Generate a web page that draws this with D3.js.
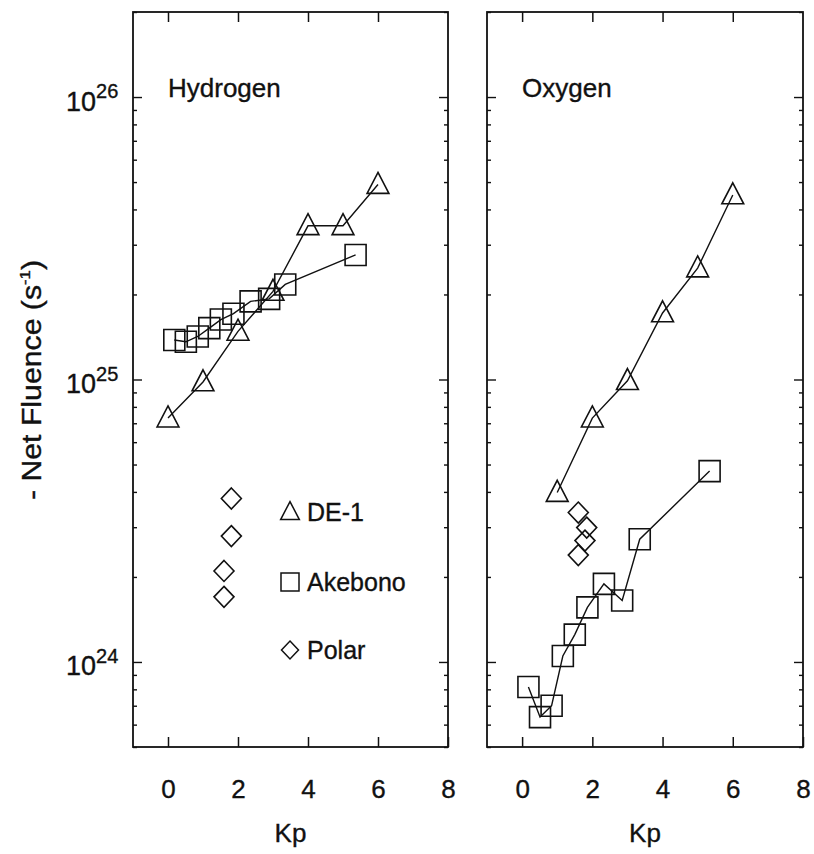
<!DOCTYPE html>
<html><head><meta charset="utf-8">
<script src="https://cdn.jsdelivr.net/npm/d3@7"></script>
<style>body{margin:0;background:#fff} svg{display:block} text{stroke:#111;stroke-width:0.35px}</style>
</head><body>
<svg id="c" width="814" height="854"></svg>
<script>
// ---- data ----
const kpTicks = [0, 2, 4, 6, 8];
const yMajorExps = [24, 25, 26];
const panelNames = ["Hydrogen", "Oxygen"];
const legendLabels = ["DE-1", "Akebono", "Polar"];

const de1KpH = [0, 1, 2, 3, 4, 5, 6];
const de1H = [7.3e24, 9.8e24, 1.48e25, 2.05e25, 3.5e25, 3.5e25, 4.9e25];
const akeKpH = [0.18, 0.51, 0.85, 1.18, 1.51, 1.87, 2.36, 2.89, 3.35, 5.36];
const akeH = [1.38e25, 1.36e25, 1.42e25, 1.52e25, 1.63e25, 1.71e25, 1.89e25, 1.93e25, 2.17e25, 2.76e25];
const polarKpH = [1.81, 1.81, 1.6, 1.6];
const polarH = [3.79e24, 2.79e24, 2.1e24, 1.7e24];

const de1KpO = [1, 2, 3, 4, 5, 6];
const de1O = [3.98e24, 7.3e24, 9.9e24, 1.72e25, 2.48e25, 4.5e25];
const akeKpO = [0.18, 0.51, 0.84, 1.16, 1.5, 1.86, 2.33, 2.85, 3.35, 5.34];
const akeO = [8.15e23, 6.38e23, 7.0e23, 1.05e24, 1.25e24, 1.56e24, 1.89e24, 1.65e24, 2.72e24, 4.74e24];
const polarKpO = [1.6, 1.84, 1.79, 1.6];
const polarO = [3.38e24, 2.99e24, 2.69e24, 2.39e24];

// ---- layout ----
const svg = d3.select("#c");
const FONT = "'Liberation Sans', Arial, Helvetica, sans-serif";
const y0 = 12, y1 = 747;
const panels = [
  {x0: 133, x1: 448, name: panelNames[0],
   de1: {kp: de1KpH, v: de1H}, ake: {kp: akeKpH, v: akeH}, polar: {kp: polarKpH, v: polarH}},
  {x0: 487, x1: 803, name: panelNames[1],
   de1: {kp: de1KpO, v: de1O}, ake: {kp: akeKpO, v: akeO}, polar: {kp: polarKpO, v: polarO}}
];

const y = d3.scaleLog().domain([5e23, 2e26]).range([y1, y0]);
const majors = yMajorExps.map(e => Math.pow(10, e));
const minors = [];
for (let e = 23; e <= 26; e++) for (let m = 2; m <= 9; m++) {
  const v = m * Math.pow(10, e);
  if (v >= 5e23 && v <= 2e26) minors.push(v);
}

// custom symbols (size = width in px)
const triSym = {draw(ctx, s) { const h = s; ctx.moveTo(0, -0.58 * h); ctx.lineTo(0.52 * h, 0.42 * h); ctx.lineTo(-0.52 * h, 0.42 * h); ctx.closePath(); }};
const sqSym = {draw(ctx, s) { const r = s / 2; ctx.rect(-r, -r, s, s); }};
const diaSym = {draw(ctx, s) { const r = s / 2; ctx.moveTo(0, -r * 1.05); ctx.lineTo(r, 0); ctx.lineTo(0, r * 1.05); ctx.lineTo(-r, 0); ctx.closePath(); }};
const sym = (t, s) => d3.symbol().type(t).size(s)();

panels.forEach((p, i) => {
  const x = d3.scaleLinear().domain([-1, 8]).range([p.x0, p.x1]);
  const g = svg.append("g");

  // frame
  g.append("rect").attr("x", p.x0).attr("y", y0).attr("width", p.x1 - p.x0).attr("height", y1 - y0)
    .attr("fill", "none").attr("stroke", "#111").attr("stroke-width", 1.8);

  // x axes (ticks inward)
  const xb = g.append("g").attr("transform", `translate(0,${y1})`)
    .call(d3.axisBottom(x).tickValues(kpTicks).tickSizeInner(-10).tickSizeOuter(0).tickPadding(33));
  const xt = g.append("g").attr("transform", `translate(0,${y0})`)
    .call(d3.axisTop(x).tickValues(kpTicks.slice(0, 4)).tickSizeInner(-10).tickSizeOuter(0).tickFormat(""));
  [xb, xt].forEach(a => { a.select(".domain").remove(); a.selectAll("line").attr("stroke", "#111").attr("stroke-width", 1.5); });
  xb.selectAll("text").attr("font-family", FONT).attr("font-size", 26).attr("fill", "#111");

  // y axes (left and right, inward)
  const addY = (axisFn, xpos, vals, len) => {
    const a = g.append("g").attr("transform", `translate(${xpos},0)`)
      .call(axisFn(y).tickValues(vals).tickSizeInner(-len).tickSizeOuter(0).tickFormat(""));
    a.select(".domain").remove();
    a.selectAll("line").attr("stroke", "#111").attr("stroke-width", 1.4);
    return a;
  };
  addY(d3.axisLeft, p.x0, minors, 4);
  addY(d3.axisRight, p.x1, minors, 4);
  addY(d3.axisLeft, p.x0, majors, 9);
  addY(d3.axisRight, p.x1, majors, 9);

  if (i === 0) {
    const lab = g.append("g").attr("transform", `translate(${p.x0},0)`)
      .call(d3.axisLeft(y).tickValues(majors).tickSize(0).tickPadding(40).tickFormat(() => "10"));
    lab.select(".domain").remove();
    lab.selectAll("text").attr("font-family", FONT).attr("font-size", 27).attr("fill", "#111")
      .attr("text-anchor", "start").attr("x", -67).attr("dy", "0.48em")
      .each(function(d) {
        d3.select(this).append("tspan").attr("font-size", 20).attr("dy", "-0.62em")
          .text(Math.round(Math.log10(d)));
      });
  }

  // x axis title
  g.append("text").attr("x", (p.x0 + p.x1) / 2).attr("y", 842).attr("text-anchor", "middle")
    .attr("font-family", FONT).attr("font-size", 26).attr("fill", "#111").text("Kp");

  // panel label
  g.append("text").attr("x", x(0)).attr("y", 97).attr("font-family", FONT).attr("font-size", 26)
    .attr("fill", "#111").text(p.name);

  const line = d3.line().x(d => x(d[0])).y(d => y(d[1]));
  const zip = s => s.kp.map((k, j) => [k, s.v[j]]);
  const mk = (data, type, size) => g.append("g").selectAll("path").data(data).join("path")
    .attr("transform", d => `translate(${x(d[0])},${y(d[1])})`)
    .attr("d", sym(type, size)).attr("fill", "none").attr("stroke", "#111").attr("stroke-width", 1.6);

  g.append("path").attr("d", line(zip(p.de1))).attr("fill", "none").attr("stroke", "#111").attr("stroke-width", 1.4);
  g.append("path").attr("d", line(zip(p.ake))).attr("fill", "none").attr("stroke", "#111").attr("stroke-width", 1.4);
  mk(zip(p.de1), triSym, 21);
  mk(zip(p.ake), sqSym, 21);
  mk(zip(p.polar), diaSym, 20);
});

// legend
const legY = [512, 582, 650];
const legSym = [[triSym, 18], [sqSym, 18], [diaSym, 17]];
legendLabels.forEach((t, i) => {
  svg.append("path").attr("transform", `translate(290,${legY[i]})`).attr("d", sym(legSym[i][0], legSym[i][1]))
    .attr("fill", "none").attr("stroke", "#111").attr("stroke-width", 1.5);
  svg.append("text").attr("x", 307).attr("y", legY[i]).attr("dy", "0.36em").attr("font-family", FONT)
    .attr("font-size", 25).attr("fill", "#111").text(t);
});

// y axis title
const yt = svg.append("text").attr("transform", "translate(41,380) rotate(-90) scale(1.12,1)").attr("text-anchor", "middle")
  .attr("font-family", FONT).attr("font-size", 27).attr("fill", "#111");
yt.append("tspan").text("- Net Fluence (s");
yt.append("tspan").attr("font-size", 15).attr("dy", "-0.75em").text("-1");
yt.append("tspan").attr("dy", "0.42em").text(")");
</script>
</body></html>
